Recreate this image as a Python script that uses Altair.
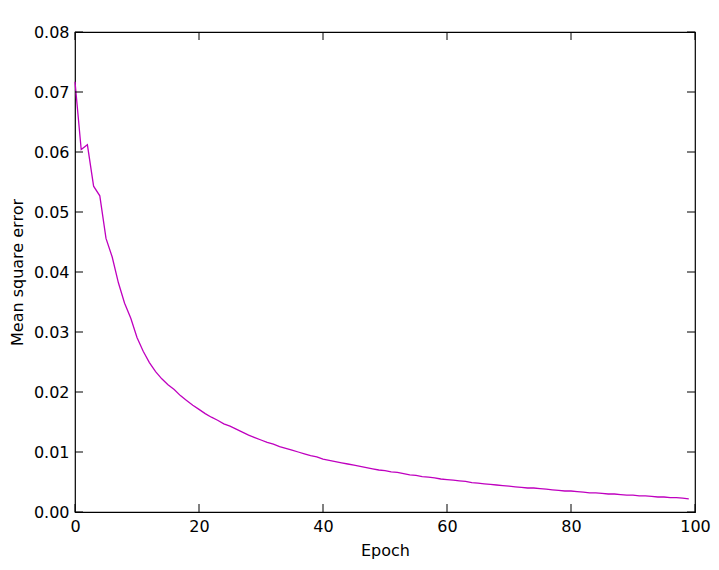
import altair as alt
import pandas as pd

epochs = list(range(100))
mse = [
    0.0717, 0.0604, 0.0612, 0.0543, 0.0527, 0.0456, 0.0425, 0.0382, 0.0348, 0.0323,
    0.0291, 0.0268, 0.0249, 0.0234, 0.0222, 0.0212, 0.0204, 0.0194, 0.0186, 0.0178,
    0.0171, 0.0164, 0.0158, 0.0153, 0.0147, 0.0143, 0.0138, 0.0133, 0.0128, 0.0124,
    0.0120, 0.0116, 0.0113, 0.0109, 0.0106, 0.0103, 0.0100, 0.0097, 0.0094, 0.0092,
    0.0088, 0.0086, 0.0084, 0.0082, 0.0080, 0.0078, 0.0076, 0.0074, 0.0072, 0.0070,
    0.0069, 0.0067, 0.0066, 0.0064, 0.0062, 0.0061, 0.0059, 0.0058, 0.0057, 0.0055,
    0.0054, 0.0053, 0.0052, 0.0051, 0.0049, 0.0048, 0.0047, 0.0046, 0.0045, 0.0044,
    0.0043, 0.0042, 0.0041, 0.0040, 0.0040, 0.0039, 0.0038, 0.0037, 0.0036, 0.0035,
    0.0035, 0.0034, 0.0033, 0.0032, 0.0032, 0.0031, 0.0030, 0.0030, 0.0029, 0.0028,
    0.0028, 0.0027, 0.0027, 0.0026, 0.0025, 0.0025, 0.0024, 0.0024, 0.0023, 0.0022,
]
x_ticks = [0, 20, 40, 60, 80, 100]
y_ticks = [0.00, 0.01, 0.02, 0.03, 0.04, 0.05, 0.06, 0.07, 0.08]

W, H = 620, 480
FONT = "DejaVu Sans"

df = pd.DataFrame({"Epoch": epochs, "MSE": mse})
dfx = pd.DataFrame({"v": x_ticks})
dfy = pd.DataFrame({"v": y_ticks})

xs = alt.Scale(domain=[0, 100], nice=False, zero=False)
ys = alt.Scale(domain=[0, 0.08], nice=False, zero=False)

x_axis = alt.Axis(title="Epoch", values=x_ticks, format="d", ticks=False, domain=False,
                  grid=False, labelPadding=6, titlePadding=8, labelFlush=False)
y_axis = alt.Axis(title="Mean square error", values=y_ticks, format=".2f", ticks=False,
                  domain=False, grid=False, labelPadding=6, titlePadding=8, labelFlush=False)

line = alt.Chart(df).mark_line(color="#BF00BF", strokeWidth=1.3).encode(
    x=alt.X("Epoch:Q", scale=xs, axis=x_axis, title="Epoch"),
    y=alt.Y("MSE:Q", scale=ys, axis=y_axis, title="Mean square error"),
)

xb = alt.Chart(dfx).mark_rule(color="black", strokeWidth=1).encode(
    x=alt.X("v:Q", scale=xs, axis=x_axis, title="Epoch"), y=alt.value(H), y2=alt.value(H - 8))
xt = alt.Chart(dfx).mark_rule(color="black", strokeWidth=1).encode(
    x=alt.X("v:Q", scale=xs, axis=x_axis, title="Epoch"), y=alt.value(0), y2=alt.value(8))
yl = alt.Chart(dfy).mark_rule(color="black", strokeWidth=1).encode(
    y=alt.Y("v:Q", scale=ys, axis=y_axis, title="Mean square error"), x=alt.value(0), x2=alt.value(8))
yr = alt.Chart(dfy).mark_rule(color="black", strokeWidth=1).encode(
    y=alt.Y("v:Q", scale=ys, axis=y_axis, title="Mean square error"), x=alt.value(W), x2=alt.value(W - 8))

chart = alt.layer(line, xb, xt, yl, yr).properties(
    width=W, height=H, autosize="none", background="white",
    padding={"left": 67, "top": 24, "right": 16, "bottom": 50},
).configure_view(stroke="black", strokeWidth=1.2).configure_axis(
    labelFont=FONT, titleFont=FONT, labelFontSize=16, titleFontSize=16,
    labelColor="black", titleColor="black", titleFontWeight="normal",
)

chart.save("out.html", embed_options={"renderer": "svg", "actions": False})
